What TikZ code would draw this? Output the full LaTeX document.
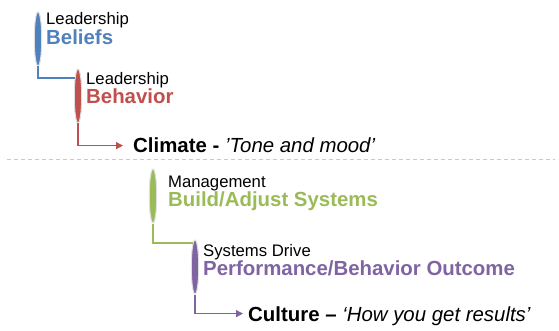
\documentclass[tikz,border=0pt]{standalone}
\usepackage{fontspec}
\setmainfont{Liberation Sans}
\usetikzlibrary{shapes.geometric,arrows.meta}

\definecolor{lblue}{HTML}{4F81BD}
\definecolor{lred}{HTML}{C0504D}
\definecolor{lgreen}{HTML}{9BBB59}
\definecolor{lpurple}{HTML}{8064A2}
\definecolor{sand}{HTML}{D6CC98}

\tikzset{
  pill/.style={ellipse, fill=#1, draw=black!12, line width=1pt,
    minimum width=7.5pt, minimum height=54pt, inner sep=0pt},
  small/.style={anchor=base west, inner sep=0pt,
    font=\fontsize{16.7}{20}\selectfont},
  big/.style={anchor=base west, inner sep=0pt, text=#1,
    font=\fontsize{20.4}{24}\selectfont\bfseries},
  link/.style={draw=#1, line width=1.3pt},
  tip/.style={-{Triangle[length=7pt,width=7pt]}},
}

\begin{document}
\begin{tikzpicture}[x=1pt,y=-1pt]
  \useasboundingbox (0,0) rectangle (559,331);

  % leadership
  \node[pill=lblue] (beliefs-pill) at (38,39) {};
  \node[small] (lead-a) at (46,25) {Leadership};
  \node[big=lblue] (beliefs) at (46,45) {Beliefs};
  \node[pill=lred] (behavior-pill) at (78,96) {};
  \node[small] (lead-b) at (86,85) {Leadership};
  \node[big=lred] (behavior) at (86,104) {Behavior};
  \node[big=black, text depth=0pt] (climate) at (133,153)
    {Climate - {\mdseries\itshape ’Tone and mood’}};
  \draw[link=lblue] (beliefs-pill.south) |- (behavior-pill.100);
  \draw[link=lred, tip, shorten >=10pt] (behavior-pill.south) |- (climate.west);

  \draw[sand, line width=1pt, dash pattern=on 4pt off 3pt] (7,160) -- (555,160);

  % management
  \node[pill=lgreen] (build-pill) at (153,196) {};
  \node[small] (mgmt) at (168,187) {Management};
  \node[big=lgreen] (build) at (168,206) {Build/Adjust Systems};
  \node[pill=lpurple] (perf-pill) at (195,267) {};
  \node[small] (drive) at (203,256) {Systems Drive};
  \node[big=lpurple] (perf) at (203,275) {Performance/Behavior Outcome};
  \node[big=black, text depth=0pt] (culture) at (248,321)
    {Culture -- {\mdseries\itshape ‘How you get results’}};
  \draw[link=lgreen] (build-pill.south) |- (perf-pill.95);
  \draw[link=lpurple, tip, shorten >=5pt] (perf-pill.south) |- (culture.west);
\end{tikzpicture}
\end{document}
